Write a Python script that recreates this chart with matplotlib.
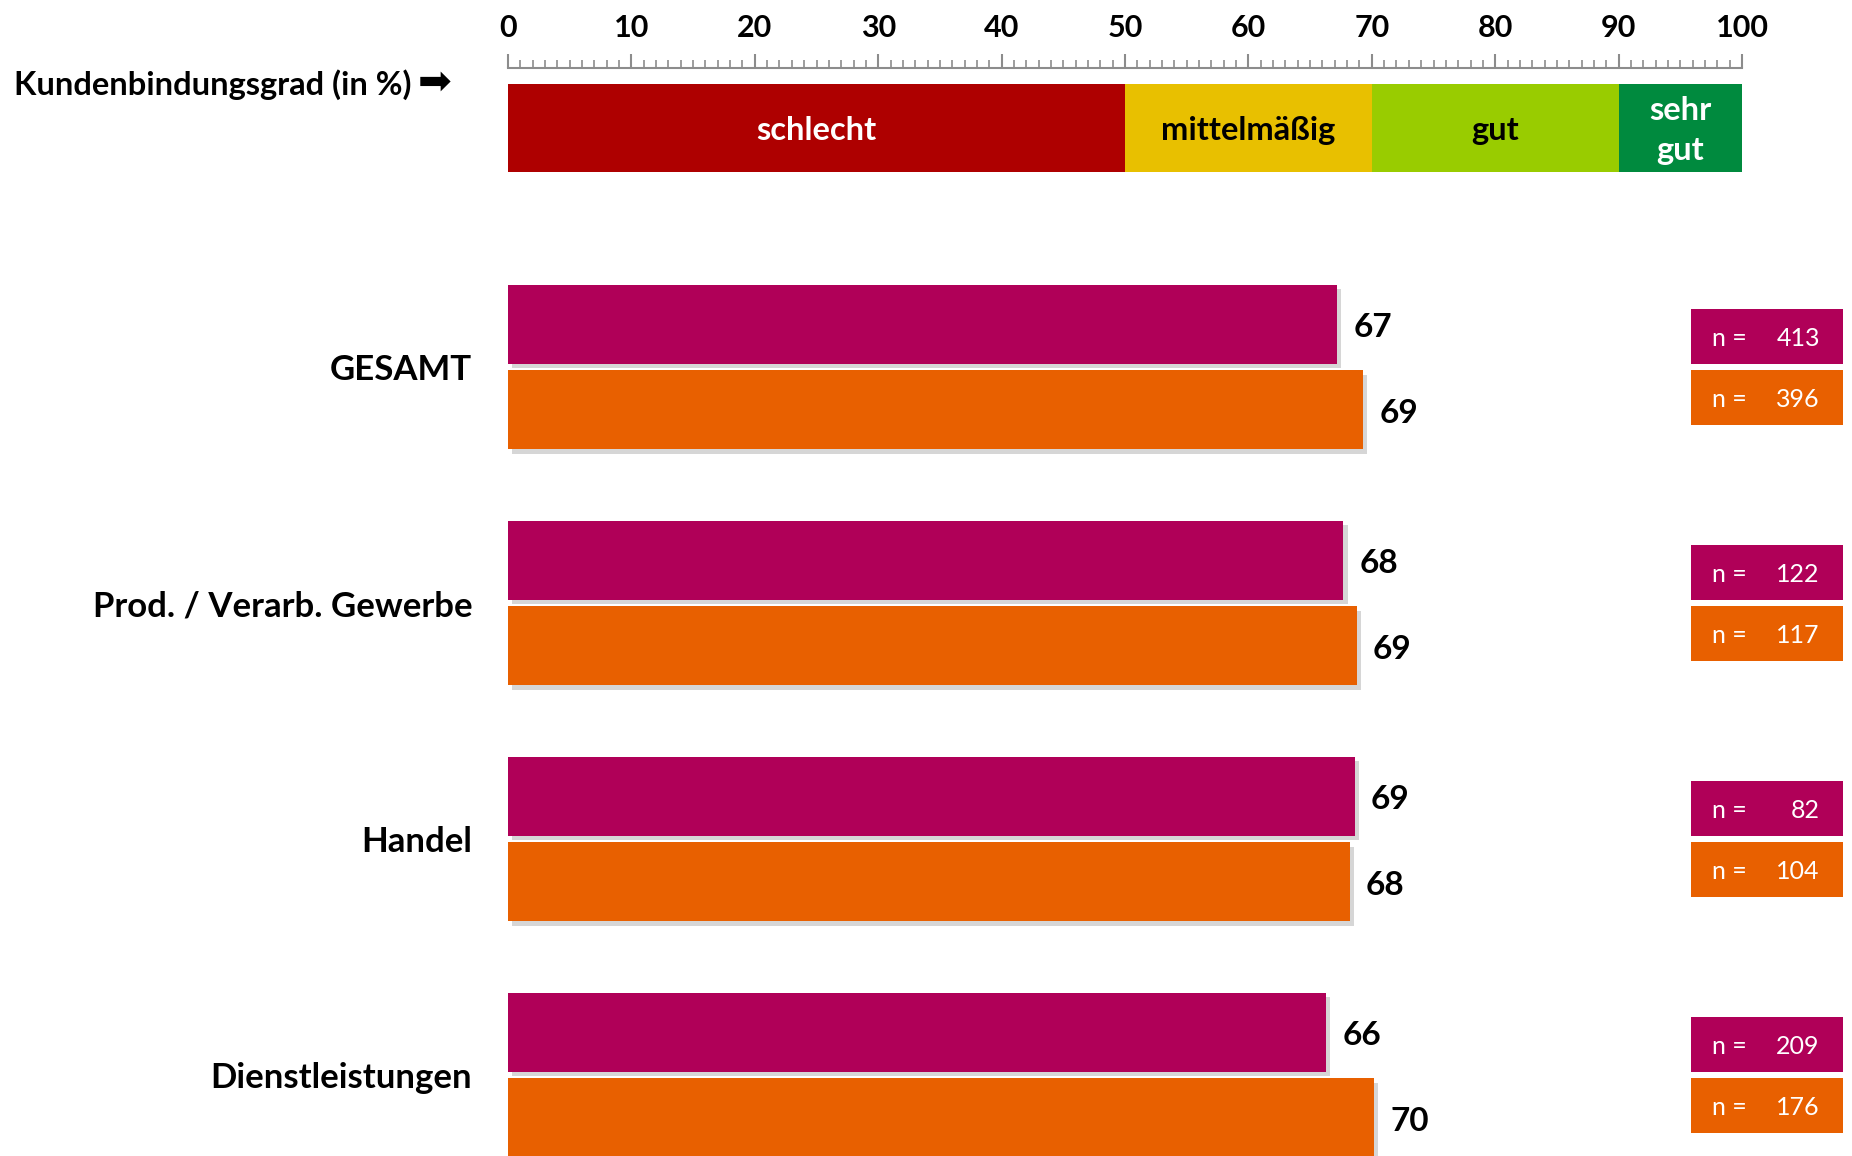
import matplotlib.pyplot as plt
import matplotlib.patheffects as pe
import numpy as np

plt.rcParams['font.family'] = ['Lato', 'DejaVu Sans']

# Daten
categories = ['GESAMT', 'Prod. / Verarb. Gewerbe', 'Handel', 'Dienstleistungen']
werte_a = [67.2, 67.7, 68.6, 66.3]      # magenta
werte_b = [69.3, 68.8, 68.2, 70.2]      # orange
n_a = [413, 122, 82, 209]
n_b = [396, 117, 104, 176]

band_starts = [0, 50, 70, 90]
band_widths = [50, 20, 20, 10]
band_labels = ['schlecht', 'mittelmäßig', 'gut', 'sehr\ngut']
band_colors = ['#AE0000', '#E8C000', '#99CC00', '#008A3E']
band_textcol = ['white', 'black', 'black', 'white']

col_a = '#B00058'
col_b = '#E86000'

# Layout (Pixel)
W, H = 1852, 1156
x0, ppu = 508, 12.34          # Position von 0 und Pixel pro Prozentpunkt
yc0, gap = 367, 236           # Mitte der ersten Gruppe, Gruppenabstand

fig = plt.figure(figsize=(W / 100, H / 100), dpi=100)
ax = fig.add_axes([0, 0, 1, 1])
ax.set_xlim(-x0 / ppu, (W - x0) / ppu)
ax.set_ylim((H - yc0) / gap, -yc0 / gap)
ax.axis('off')

shadow = [pe.SimplePatchShadow(offset=(3, -3), shadow_rgbFace='#9A9A9A', alpha=0.4), pe.Normal()]

y = np.arange(len(categories))
off = 0.182
ax.barh(y - off, werte_a, height=0.335, color=col_a, path_effects=shadow)
ax.barh(y + off, werte_b, height=0.335, color=col_b, path_effects=shadow)

dy = 0.014
for i, cat in enumerate(categories):
    ax.text(-2.9, y[i] + dy, cat, ha='right', va='center', fontsize=25, fontweight='bold')
    ax.text(werte_a[i] + 1.3, y[i] - off + dy, f'{werte_a[i]:.0f}', ha='left', va='center',
            fontsize=24, fontweight='bold')
    ax.text(werte_b[i] + 1.3, y[i] + off + dy, f'{werte_b[i]:.0f}', ha='left', va='center',
            fontsize=24, fontweight='bold')

# n-Kästen
box_l, box_w, box_h, box_off = 95.9, 12.3, 0.233, 0.13
ax.barh(y - box_off, box_w, left=box_l, height=box_h, color=col_a)
ax.barh(y + box_off, box_w, left=box_l, height=box_h, color=col_b)
for i in range(len(categories)):
    for yy, n in [(y[i] - box_off, n_a[i]), (y[i] + box_off, n_b[i])]:
        ax.text(97.6, yy + 0.008, 'n =', ha='left', va='center', color='white', fontsize=18)
        ax.text(106.3, yy + 0.008, str(n), ha='right', va='center', color='white', fontsize=18)

# Bewertungsband
band_y = (128 - yc0) / gap
ax.barh(band_y, band_widths, left=band_starts, height=88 / gap, color=band_colors)
for s, w, lab, c in zip(band_starts, band_widths, band_labels, band_textcol):
    ax.text(s + w / 2, band_y + 0.01, lab, ha='center', va='center', color=c,
            fontsize=23.5, fontweight='bold', linespacing=1.45)

# Skala oben
rx = fig.add_axes([x0 / W, 1 - 68 / H, 100 * ppu / W, 20 / H])
rx.set_xlim(0, 100)
rx.set_yticks([])
rx.patch.set_alpha(0)
for s in ['left', 'right', 'top']:
    rx.spines[s].set_visible(False)
rx.spines['bottom'].set_color('#8C8C8C')
rx.spines['bottom'].set_linewidth(1.5)
rx.set_xticks(np.arange(0, 101, 10))
rx.set_xticks(np.arange(0, 101, 1), minor=True)
rx.tick_params(which='both', direction='in', color='#8C8C8C', bottom=True, top=False,
               labelbottom=False, labeltop=True)
rx.tick_params(which='major', length=10, width=1.5, pad=4, labelsize=22)
rx.tick_params(which='minor', length=6, width=1.2)
for lab in rx.get_xticklabels():
    lab.set_fontweight('bold')

fig.text(14 / W, 1 - 85 / H, 'Kundenbindungsgrad (in %)', ha='left', va='center',
         fontsize=23.5, fontweight='bold')
fig.text(418 / W, 1 - 83 / H, '➡', ha='left', va='center', fontsize=29,
         family='DejaVu Sans')

fig.savefig('out.png', dpi=100)
